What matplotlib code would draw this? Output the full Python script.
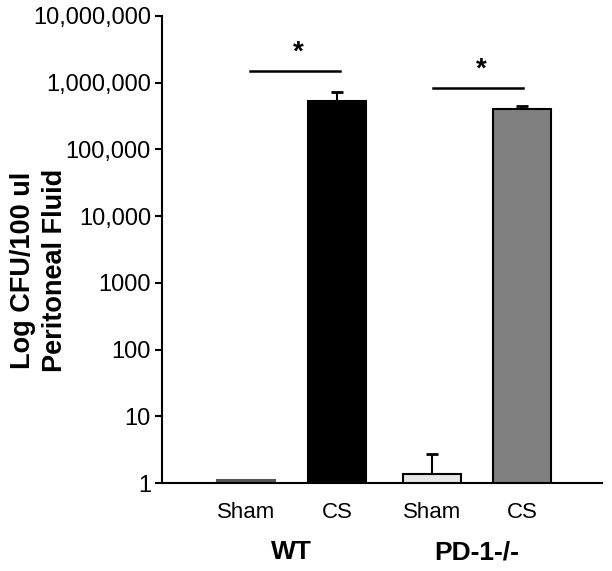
import matplotlib.pyplot as plt
from matplotlib.ticker import FixedLocator, FixedFormatter, NullLocator
import matplotlib.transforms as mtransforms

plt.rcParams['font.family'] = ['Liberation Sans', 'DejaVu Sans']

# data
conditions = ['Sham', 'CS', 'Sham', 'CS']
groups = ['WT', 'PD-1-/-']
xpos = [0, 1, 2.04, 3.03]
cfu = [1.12, 533000, 1.36, 405000]
err = [0, 195000, 1.36, 44000]
colors = ['#555555', '#000000', '#e6e6e6', '#808080']
edges = ['#555555', '#000000', '#000000', '#000000']
ytick_vals = [1, 10, 100, 1000, 1e4, 1e5, 1e6, 1e7]
ytick_labels = ['1', '10', '100', '1000', '10,000', '100,000', '1,000,000', '10,000,000']
sig_pairs = [(0.04, 1.03, 1.5e6), (2.05, 3.04, 8.4e5)]

fig = plt.figure(figsize=(6.12, 5.71), dpi=100)
ax = fig.add_axes([0.2647, 0.1541, 0.7190, 0.8179])

ax.bar(xpos, cfu, width=0.64, color=colors, edgecolor=edges, linewidth=1.5,
       bottom=0, zorder=2)
for x, v, e in zip(xpos, cfu, err):
    if e > 0:
        ax.errorbar(x, v, yerr=[[0], [e]], fmt='none', ecolor='black',
                    elinewidth=1.5, capsize=4, capthick=2, zorder=1)

ax.set_yscale('log')
ax.set_ylim(1, 1e7)
ax.set_xlim(-0.923, 3.91)
ax.yaxis.set_major_locator(FixedLocator(ytick_vals))
ax.yaxis.set_major_formatter(FixedFormatter(ytick_labels))
ax.yaxis.set_minor_locator(NullLocator())
ax.tick_params(axis='y', labelsize=17, width=1.5, length=5, pad=3)
ax.set_xticks([])
for s in ['top', 'right']:
    ax.spines[s].set_visible(False)
for s in ['left', 'bottom']:
    ax.spines[s].set_linewidth(1.5)

# y label placed by hand, two lines
fig.text(39 / 612, 1 - 270 / 571, 'Log CFU/100 ul\nPeritoneal Fluid',
         rotation=90, ha='center', va='center', fontsize=19.5,
         fontweight='bold', linespacing=1.3)

# significance markers
for x0, x1, y in sig_pairs:
    ax.plot([x0, x1], [y, y], color='black', lw=1.8, clip_on=False)
    ax.text((x0 + x1) / 2 + 0.04, y * 1.2, '*', ha='center', va='bottom',
            fontsize=20, fontweight='bold')

# category labels
trans = mtransforms.blended_transform_factory(ax.transData, ax.transAxes)
for x, c in zip(xpos, conditions):
    ax.text(x, -0.064, c, transform=trans, ha='center', va='center', fontsize=16)
for i, g in enumerate(groups):
    gx = (xpos[2 * i] + xpos[2 * i + 1]) / 2
    ax.text(gx, -0.148, g, transform=trans, ha='center', va='center',
            fontsize=19, fontweight='bold')

fig.savefig('out.png', dpi=100)
